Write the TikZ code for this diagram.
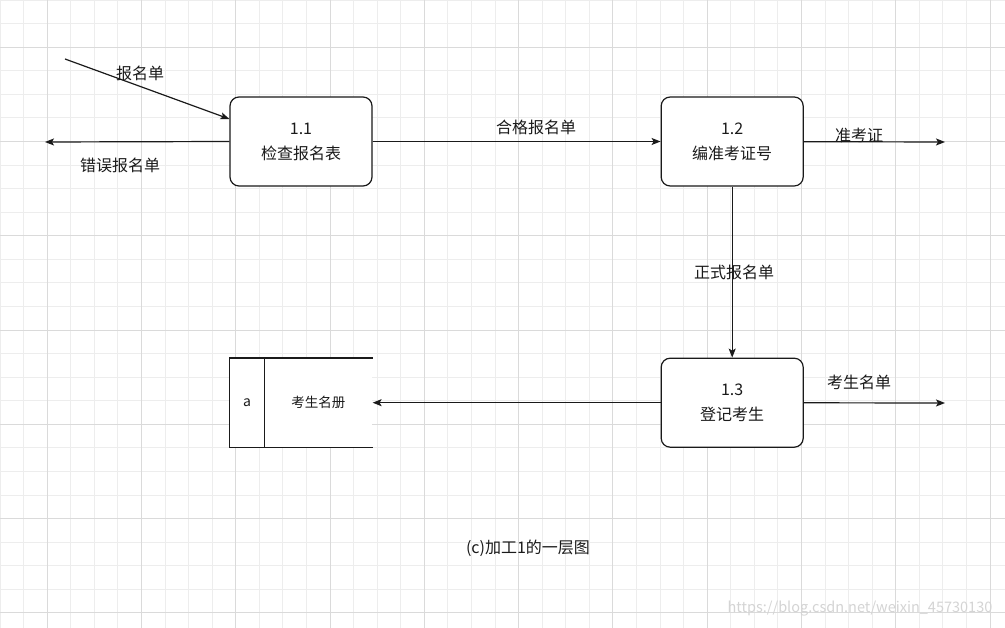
\documentclass[tikz,border=0pt]{standalone}
\usepackage{fontspec}
\setmainfont{Noto Sans CJK SC}
\usetikzlibrary{arrows.meta,positioning}
\usepackage{xcolor}
\definecolor{ink}{HTML}{1A1A1A}
\definecolor{gridminor}{HTML}{EDEDED}
\definecolor{gridmajor}{HTML}{DADADA}
\definecolor{mark}{HTML}{D4D4D4}

\begin{document}
\begin{tikzpicture}[x=1pt, y=-1pt,
      proc/.style={
        draw=ink, line width=1.2pt, rounded corners=9pt, fill=white, align=center,
        font=\fontsize{16}{25}\selectfont, text=ink,
        minimum width=142pt, minimum height=89pt, inner sep=0pt
      },
      storepart/.style={
        fill=white, text=ink, minimum height=89pt, inner sep=0pt
      },
      lbl/.style={font=\fontsize{16}{18}\selectfont, text=ink, inner sep=0pt},
      flow/.style={-{Stealth[length=9pt, width=7pt, inset=2pt]}, line width=1.2pt, draw=ink},
      node distance=10mm
    ]
    \useasboundingbox[fill=white] (0,0) rectangle (1005,628);
    \foreach \i in {0,...,42}
      \draw[gridminor, line width=0.8pt] (\i*23.57,0) -- (\i*23.57,628);
    \foreach \j in {0,...,26}
      \draw[gridminor, line width=0.8pt] (0,\j*23.57) -- (1005,\j*23.57);
    \foreach \i in {2,6,...,42}
      \draw[gridmajor, line width=0.8pt] (\i*23.57,0) -- (\i*23.57,628);
    \foreach \j in {2,6,...,26}
      \draw[gridmajor, line width=0.8pt] (0,\j*23.57) -- (1005,\j*23.57);

    \node[proc] (p11) at (301,141.5) {1.1\\检查报名表};
    \node[proc, right=288pt of p11] (p12) {1.2\\编准考证号};
    \node[proc, below=171pt of p12] (p13) {1.3\\登记考生};
    \node[storepart, minimum width=108pt, font=\fontsize{13.5}{16}\selectfont,
      left=288pt of p13] (store) {考生名册};
    \node[storepart, minimum width=34pt, font=\fontsize{14}{16}\selectfont,
      left=0pt of store] (storeid) {a};
    \draw[line width=1.2pt, draw=ink] (store.north east) -- (storeid.north west)
      -- (storeid.south west) -- (store.south east);
    \draw[line width=1.2pt, draw=ink] (storeid.north east) -- (storeid.south east);

    \coordinate (applicant) at (65,59);
    \coordinate (reject) at (45,142);
    \coordinate (ticket) at (945,142);
    \coordinate (roster) at (945,403);

    \draw[flow] (applicant) -- ([yshift=22.5pt]p11.west);
    \node[lbl] (formlbl) at (140,73) {报名单};
    \draw[flow] (p11.west) -- (reject);
    \node[lbl] (rejectlbl) at (120,165) {错误报名单};
    \draw[flow] (p11) -- (p12);
    \node[lbl] (passlbl) at (536,127) {合格报名单};
    \draw[flow] (p12) -- (ticket);
    \node[lbl] (ticketlbl) at (859,135) {准考证};
    \draw[flow] (p12) -- (p13);
    \node[lbl] (officiallbl) at (734,272) {正式报名单};
    \draw[flow] (p13) -- (store.east);
    \draw[flow] (p13) -- (roster);
    \node[lbl] (rosterlbl) at (859,382) {考生名单};

    \node[lbl] (caption) at (528,548) {(c)加工1的一层图};
    \node[lbl, text=mark, font=\fontsize{14.5}{16}\selectfont] (mark) at (860,609)
      {https://blog.csdn.net/weixin\_45730130};
  \end{tikzpicture}
\end{document}
